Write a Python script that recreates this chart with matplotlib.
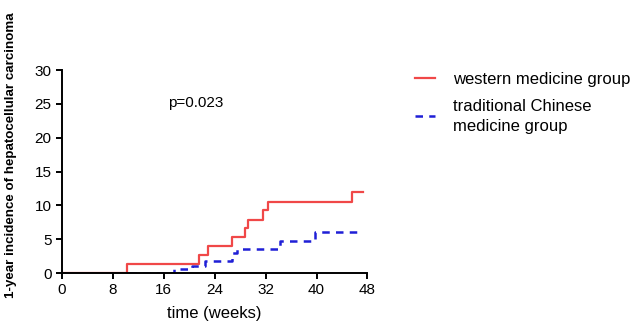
import matplotlib
matplotlib.use('Agg')
from matplotlib import pyplot as plt

plt.rcParams['font.family'] = ['Liberation Sans', 'DejaVu Sans']

# step data (weeks, incidence)
west_t = [0, 10.2, 21.6, 23.0, 26.7, 28.7, 29.3, 31.6, 32.3, 45.6, 47.3]
west_y = [0, 1.33, 2.66, 4.0, 5.3, 6.6, 7.9, 9.3, 10.5, 12.0, 12.0]
tcm_t = [10.5, 17.6, 20.4, 22.5, 26.7, 27.5, 34.3, 39.8, 47.3]
tcm_y = [0, 0.55, 1.1, 1.77, 2.9, 3.5, 4.8, 6.06, 6.06]

xticks = [0, 8, 16, 24, 32, 40, 48]
yticks = [0, 5, 10, 15, 20, 25, 30]

fig = plt.figure(figsize=(6.43, 3.29), dpi=100)
ax = fig.add_axes([0.0964, 0.170, 0.475, 0.617])

ax.step(tcm_t, tcm_y, where='post', color='#1f1fd6', lw=1.8,
        linestyle=(0, (3, 2.5)), label='traditional Chinese\nmedicine group')
ax.step(west_t, west_y, where='post', color='#f04848', lw=1.6,
        label='western medicine group')

ax.set_xlim(0, 48)
ax.set_ylim(0, 30)
ax.set_xticks(xticks)
ax.set_yticks(yticks)
for s in ['top', 'right']:
    ax.spines[s].set_visible(False)
for s in ['left', 'bottom']:
    ax.spines[s].set_linewidth(1.4)
ax.tick_params(width=1.4, length=4, labelsize=11, pad=3.5)

ax.set_xlabel('time (weeks)', fontsize=12, labelpad=6)
ax.set_ylabel('1-year incidence of hepatocellular carcinoma', fontsize=9.6,
              fontweight='bold')
ax.yaxis.set_label_coords(-0.148, 0.58)

ax.text(21, 25.1, 'p=0.023', ha='center', va='center', fontsize=11)

h, l = ax.get_legend_handles_labels()
leg = fig.legend(h[::-1], l[::-1], loc='upper left', bbox_to_anchor=(0.622, 0.827),
                 frameon=False, fontsize=12, handlelength=1.2, handletextpad=1.1,
                 labelspacing=0.7)
for t in leg.get_texts():
    t.set_linespacing(1.45)

fig.savefig('out.png', dpi=100)
